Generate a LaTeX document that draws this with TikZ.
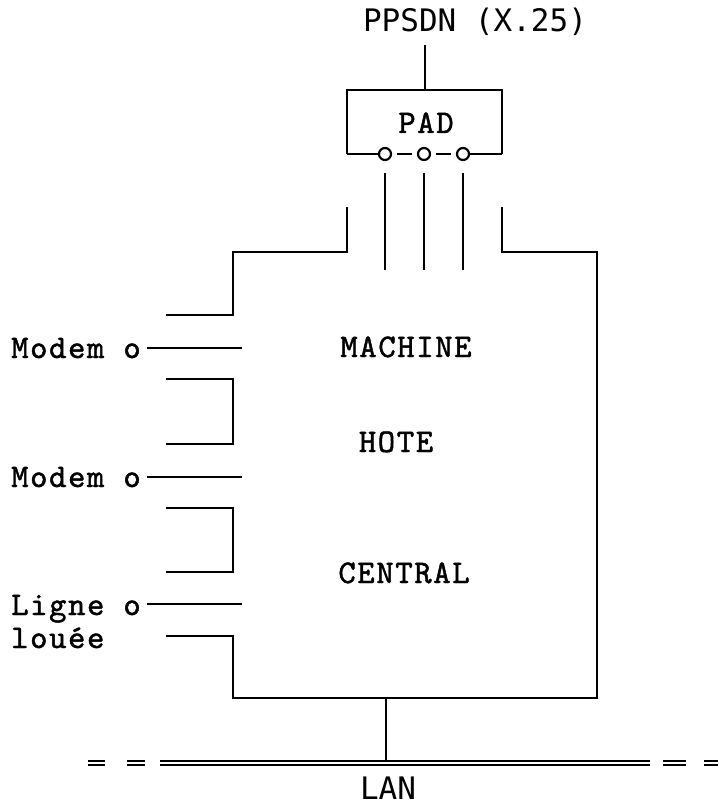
\documentclass[tikz,border=0pt]{standalone}
\usepackage{fontspec}
\newfontfamily\sansmono{DejaVu Sans Mono}
\newfontfamily\courf[Extension=.otf, LetterSpace=5, FakeBold=1.4]{lmmono10-regular}
\newcommand\courtext{\courf\fontsize{33}{35}\selectfont}
\begin{document}
\begin{tikzpicture}[x=1pt,y=-1pt,
  wire/.style={line width=2.7pt, line join=miter},
  ctext/.style={font=\courtext, inner sep=0pt, anchor=base},
  stext/.style={font=\sansmono\fontsize{31}{33}\selectfont, inner sep=0pt, anchor=base},
  ltext/.style={font=\courtext, inner sep=0pt, anchor=base west},
  port/.style={circle, draw, line width=2.2pt, minimum size=12pt, inner sep=0pt},
  bus/.style={line width=1.9pt, double, double distance=1.3pt}]
\useasboundingbox (0,0) rectangle (718,805);

% texts
\node[stext] (ppsdn) at (475,32) {PPSDN (X.25)};
\node[ctext] (pad) at (426,133) {PAD};
\node[ctext] (machine) at (406,357) {MACHINE};
\node[ctext] (hote) at (396,452) {HOTE};
\node[ctext] (central) at (404,583) {CENTRAL};
\node[ltext] (modem1) at (11,358) {Modem o};
\node[ltext] (modem2) at (11,487) {Modem o};
\node[ltext] (ligne) at (11,615) {Ligne o};
\node[ltext] (louee) at (11,648) {louée};
\node[stext] (lan) at (388,799) {LAN};

% PAD box
\coordinate (padtl) at (347,90);
\coordinate (padtr) at (502,90);
\coordinate (padbl) at (347,154);
\coordinate (padbr) at (502,154);
\coordinate (padtop) at (425,90);
\coordinate (ppsdnbot) at (425,45);
\draw[wire] (ppsdnbot) -- (padtop);
\draw[wire] (padbl) -- (padtl) -- (padtr) -- (padbr);
\node[port] (p1) at (385,154) {};
\node[port] (p2) at (424,154) {};
\node[port] (p3) at (463,154) {};
\draw[wire] (padbl) -- (p1.west);
\draw[wire] (p3.east) -- (padbr);
\draw[wire] (397,154) -- (412,154);
\draw[wire] (436,154) -- (451,154);

% three links
\foreach \x in {385,424,463} \draw[wire] (\x,173) -- (\x,270);

% host outline
\draw[wire] (347,207) -- (347,252) -- (233,252) -- (233,315) -- (166,315);
\draw[wire] (502,207) -- (502,252) -- (597,252) -- (597,698) -- (233,698) -- (233,636) -- (166,636);
\draw[wire] (166,379) -- (233,379) -- (233,444) -- (166,444);
\draw[wire] (166,508) -- (233,508) -- (233,572) -- (166,572);

% lines to modems
\draw[wire] (147,348) -- (242,348);
\draw[wire] (147,477) -- (242,477);
\draw[wire] (147,604) -- (242,604);

% LAN
\coordinate (hostbot) at (386,698);
\coordinate (lanpt) at (386,763);
\draw[wire] (hostbot) -- (lanpt);
\draw[bus] (160,763) -- (650,763);
\draw[bus] (88,763) -- (105,763);
\draw[bus] (127,763) -- (145,763);
\draw[bus] (663,763) -- (686,763);
\draw[bus] (704,763) -- (718,763);
\end{tikzpicture}
\end{document}
